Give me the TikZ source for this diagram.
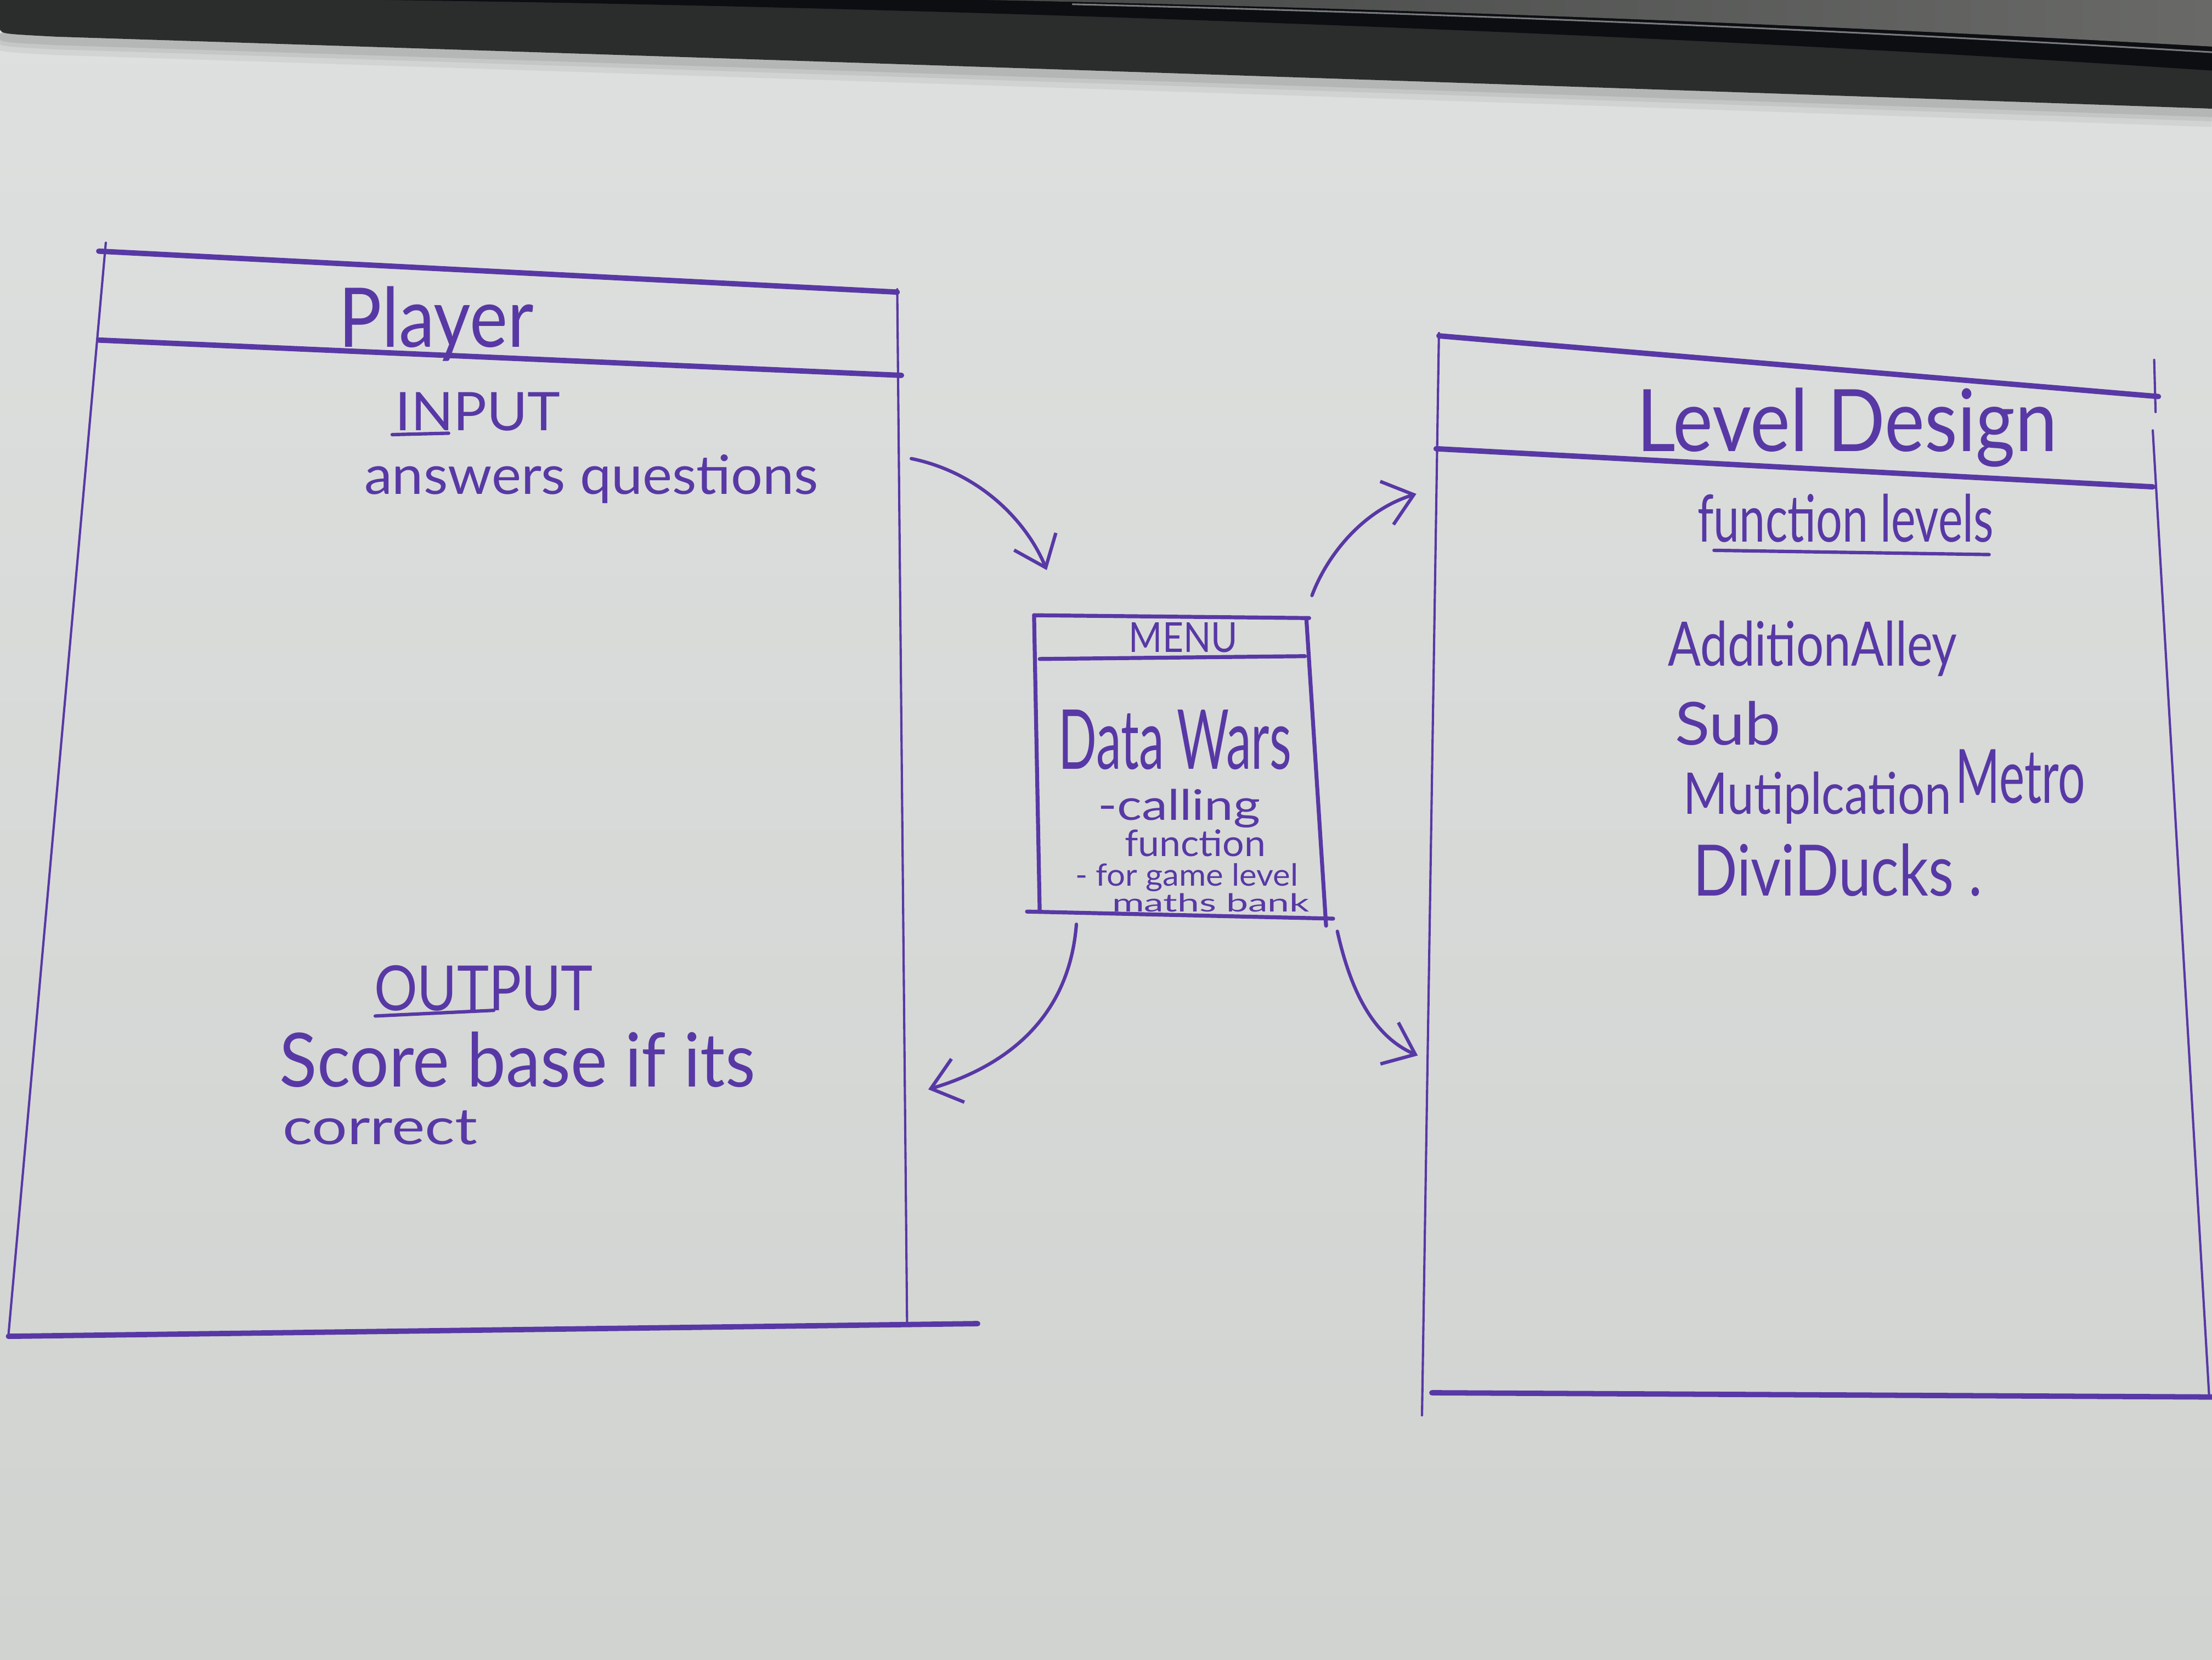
\documentclass[tikz,border=0pt]{standalone}
\usepackage{graphicx}
\usepackage{fontspec}
\setmainfont{Lato}
\usetikzlibrary{arrows.meta}

\definecolor{ink}{RGB}{88,56,165}
\definecolor{paperT}{RGB}{222,224,223}
\definecolor{paperM}{RGB}{227,229,228}
\definecolor{paperB}{RGB}{208,211,208}
\definecolor{band}{RGB}{43,45,45}
\definecolor{bandDark}{RGB}{12,14,18}
\definecolor{metalL}{RGB}{70,72,71}
\definecolor{metalR}{RGB}{105,106,104}

\newlength{\un}\setlength{\un}{0.25mm}
% handwritten word: box width, height above baseline, text
\newcommand{\hw}[3]{\resizebox{#1\un}{#2\un}{#3}}

\begin{document}
\begin{tikzpicture}[x=0.25mm,y=-0.25mm,
  rule/.style={draw=ink,line width=0.95mm,line cap=round},
  edge/.style={draw=ink,line width=0.4mm,line cap=round},
  menuline/.style={draw=ink,line width=0.7mm,line cap=round},
  uline/.style={draw=ink,line width=0.6mm,line cap=round},
  flow/.style={draw=ink,line width=0.6mm,line cap=round,
    -{Straight Barb[length=5mm,width=8mm,line width=0.6mm]}},
  hand/.style={inner sep=0pt,anchor=base west,text=ink}]

\useasboundingbox (0,0) rectangle (1568,1176);

% paper
\shade[top color=paperT,middle color=paperM,bottom color=paperB] (0,0) rectangle (1568,1176);

% soft shadow under the desk edge
\foreach \w/\o in {5mm/0.05,3mm/0.06,1.5mm/0.08}
  \draw[black,opacity=\o,line width=\w] (0,24) .. controls (2,27) .. (40,29) .. controls (600,47) and (1200,67) .. (1568,80);

% desk edge at the top
\fill[band] (0,0) -- (0,21) .. controls (2,24) .. (40,26) .. controls (600,44) and (1200,64) .. (1568,77) -- (1568,0) -- cycle;
\fill[bandDark] (270,0) .. controls (600,4) and (1000,18) .. (1300,34) .. controls (1450,42) and (1520,47) .. (1568,50) -- (1568,0) -- cycle;
\shade[left color=metalL,right color=metalR] (700,0) .. controls (1000,6) and (1300,18) .. (1568,33) -- (1568,0) -- cycle;
\draw[white,opacity=0.45,line width=0.3mm] (760,3) .. controls (1050,10) and (1320,22) .. (1568,37);

% ---------------- Player box ----------------
\draw[edge] (75,172) -- (6,946);
\draw[edge] (636,205) -- (643,939);
\draw[rule] (70,178) -- (636,207);
\draw[rule] (70,241) -- (639,266);
\draw[rule] (6,947) -- (693,938);

\node[hand] (player) at (240,246) {\hw{138}{43}{Player}};
\node[hand] (input) at (280,305) {\hw{117}{27}{INPUT}};
\draw[uline] (278,308) -- (318,307);
\node[hand] (answers) at (258,350) {\hw{322}{28}{answers questions}};
\node[hand] (output) at (265,716) {\hw{155}{32}{OUTPUT}};
\draw[uline] (266,720) -- (350,716);
\node[hand] (score) at (198,770) {\hw{337}{39}{Score base if its}};
\node[hand] (correct) at (200,811) {\hw{138}{24}{correct}};

% ---------------- Menu box ----------------
\draw[menuline] (733,436) -- (928,438);
\draw[menuline] (733,436) -- (737,646);
\draw[menuline] (737,467) -- (925,465);
\draw[menuline] (926,438) -- (940,656);
\draw[menuline] (728,646) -- (945,651);

\node[hand] (menu) at (800,462) {\hw{77}{21}{MENU}};
\node[hand] (datawars) at (750,545) {\hw{165}{42}{Data Wars}};
\node[hand] (calling) at (778,581) {\hw{115}{22}{-calling}};
\node[hand] (function) at (797,607) {\hw{100}{19}{function}};
\node[hand] (forgame) at (762,628) {\hw{158}{16}{- for game level}};
\node[hand] (bank) at (788,646) {\hw{140}{13}{maths bank}};

% ---------------- Level Design box ----------------
\draw[edge] (1020,236) -- (1008,1003);
\draw[edge] (1527,255) -- (1528,292);
\draw[edge] (1526,305) -- (1566,990);
\draw[rule] (1020,238) -- (1055,241) -- (1530,281);
\draw[rule] (1018,318) -- (1526,345);
\draw[rule] (1015,987) -- (1568,990);

\node[hand] (level) at (1160,320) {\hw{298}{45}{Level Design}};
\node[hand] (flevels) at (1203,384) {\hw{210}{34}{function levels}};
\draw[uline] (1215,390) -- (1410,393);
\node[hand] (add) at (1182,472) {\hw{205}{32}{AdditionAlley}};
\node[hand] (sub) at (1187,528) {\hw{75}{31}{Sub}};
\node[hand] (mult) at (1193,577) {\hw{190}{30}{Mutiplcation}};
\node[hand] (metro) at (1386,569) {\hw{92}{38}{Metro}};
\node[hand] (divi) at (1200,635) {\hw{205}{37}{DiviDucks .}};

% ---------------- connectors ----------------
\coordinate (a1s) at (646,325);
\coordinate (a1e) at (742,404);
\coordinate (a2s) at (930,422);
\coordinate (a2e) at (1004,350);
\coordinate (a3s) at (763,655);
\coordinate (a3e) at (658,772);
\coordinate (a4s) at (948,660);
\coordinate (a4e) at (1005,748);

\draw[flow] (a1s) .. controls (695,335) and (728,370) .. (a1e);
\draw[flow] (a2s) .. controls (940,395) and (965,362) .. (a2e);
\draw[flow] (a3s) .. controls (758,720) and (715,755) .. (a3e);
\draw[flow] (a4s) .. controls (958,705) and (975,735) .. (a4e);
\end{tikzpicture}
\end{document}
